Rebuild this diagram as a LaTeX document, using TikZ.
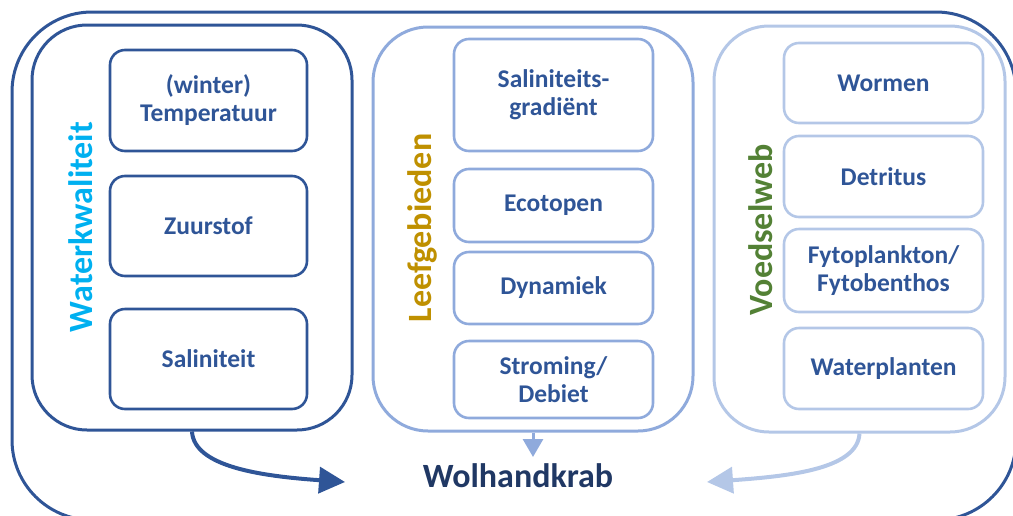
\documentclass[tikz,border=0pt]{standalone}
\usepackage{fontspec}
\setmainfont{Carlito}
\usetikzlibrary{arrows.meta}
\definecolor{donker}{HTML}{2F5597}
\definecolor{midden}{HTML}{8FAADC}
\definecolor{licht}{HTML}{B4C7E7}
\definecolor{navy}{HTML}{203864}
\definecolor{cyaan}{HTML}{00B0F0}
\definecolor{goud}{HTML}{BF9000}
\definecolor{groen}{HTML}{538135}

\begin{document}
\begin{tikzpicture}[x=1pt,y=-1pt,
    panel/.style={draw,line width=3pt,rounded corners=55pt,inner sep=0pt},
    vak/.style={line width=2.6pt,rounded corners=15pt,inner sep=0pt,
        align=center,text=donker,font=\fontsize{25.5}{28}\selectfont\bfseries},
    titel/.style={rotate=90,font=\fontsize{34}{38}\selectfont\bfseries}]
        \useasboundingbox (0,0) rectangle (1013,515);
        % outer frame
        \begin{scope}
        \clip (0,0) rectangle (1013,515);
        \draw[donker,line width=3pt,rounded corners=80pt] (12,12) rectangle (1016,520);
        \end{scope}
        % panels
        \node[panel,donker,minimum width=320pt,minimum height=405pt] (wq) at (192,227.5) {};
        \node[panel,midden,minimum width=320pt,minimum height=404pt] (lg) at (533,229) {};
        \node[panel,licht,minimum width=291pt,minimum height=406pt] (vw) at (859.5,229) {};
        % panel titles
        \node[titel,cyaan] (wqt) at (81,227) {Waterkwaliteit};
        \node[titel,goud] (lgt) at (422,228) {Leefgebieden};
        \node[titel,groen] (vwt) at (761,230) {Voedselweb};
        % waterkwaliteit
        \node[vak,draw=donker,minimum width=197pt,minimum height=101pt] (temp) at (208.5,100.5) {(winter)\\Temperatuur};
        \node[vak,draw=donker,minimum width=197pt,minimum height=100pt] (zuur) at (208.5,226) {Zuurstof};
        \node[vak,draw=donker,minimum width=197pt,minimum height=100pt] (sal) at (208.5,359) {Saliniteit};
        % leefgebieden
        \node[vak,draw=midden,minimum width=199pt,minimum height=112pt] (grad) at (553.5,95) {Saliniteits-\\gradiënt};
        \node[vak,draw=midden,minimum width=199pt,minimum height=73pt] (eco) at (553.5,205.5) {Ecotopen};
        \node[vak,draw=midden,minimum width=199pt,minimum height=72pt] (dyn) at (553.5,288) {Dynamiek};
        \node[vak,draw=midden,minimum width=199pt,minimum height=77pt] (strom) at (553.5,379.5) {Stroming/\\Debiet};
        % voedselweb
        \node[vak,draw=licht,minimum width=199pt,minimum height=80pt] (worm) at (883.5,83) {Wormen};
        \node[vak,draw=licht,minimum width=199pt,minimum height=81pt] (detr) at (883.5,176.5) {Detritus};
        \node[vak,draw=licht,minimum width=199pt,minimum height=83pt] (fyto) at (883.5,270.5) {Fytoplankton/\\Fytobenthos};
        \node[vak,draw=licht,minimum width=199pt,minimum height=81pt] (wplant) at (883.5,368.5) {Waterplanten};
        % target
        \node[text=navy,font=\fontsize{34}{38}\selectfont\bfseries] (krab) at (518,476) {Wolhandkrab};
        \coordinate (inl) at (345,482);
        \coordinate (inm) at (533,457);
        \coordinate (inr) at (707,482);
        % arrows
        \draw[donker,line width=4pt,-{Triangle[length=26pt,width=26pt]}] (wq.south) .. controls +(2,35) and +(-85,-6) .. (inl);
        \draw[midden,line width=3pt,-{Triangle[length=18pt,width=20pt]}] (lg.south) -- (inm);
        \draw[licht,line width=4pt,-{Triangle[length=26pt,width=26pt]}] (vw.south) .. controls +(-2,35) and +(85,-6) .. (inr);
\end{tikzpicture}
\end{document}
